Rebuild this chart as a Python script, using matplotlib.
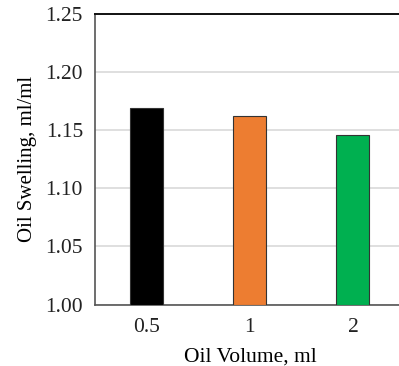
import matplotlib.pyplot as plt

# Oil swelling vs. oil volume
volumes = ["0.5", "1", "2"]
swelling = [1.169, 1.1625, 1.146]
bar_colors = ["#000000", "#ED7D31", "#00B050"]

plt.rcParams['font.family'] = ['Liberation Serif', 'DejaVu Serif']

fig = plt.figure(figsize=(3.99, 3.66), dpi=100)
ax = fig.add_axes([0.2393, 0.168, 0.7744, 0.7937])

x = range(len(volumes))
ax.bar(x, [v - 1.0 for v in swelling], bottom=1.0, width=0.32,
       color=bar_colors, edgecolor="#333333", linewidth=0.8, zorder=3)

ax.set_xlim(-0.5, 2.5)
ax.set_ylim(1.0, 1.25)
ax.set_yticks([1.00, 1.05, 1.10, 1.15, 1.20, 1.25])
ax.set_yticklabels([f"{t:.2f}" for t in ax.get_yticks()])
ax.set_xticks(list(x))
ax.set_xticklabels(volumes)
ax.tick_params(length=0, labelsize=15.5, colors="#222222")
ax.tick_params(axis='y', pad=9)
ax.tick_params(axis='x', pad=10)

ax.yaxis.grid(True, color="#d9d9d9", linewidth=1.2, zorder=0)
ax.set_axisbelow(True)

for side in ['left', 'bottom']:
    ax.spines[side].set_color("#555555")
    ax.spines[side].set_linewidth(1.2)
ax.spines['top'].set_color("#111111")
ax.spines['top'].set_linewidth(1.4)
ax.spines['right'].set_visible(False)

ax.set_xlabel("Oil Volume, ml", fontsize=15.5, labelpad=7)
ax.set_ylabel("Oil Swelling, ml/ml", fontsize=15, labelpad=6)

plt.savefig("out.png", dpi=100)
plt.close()
